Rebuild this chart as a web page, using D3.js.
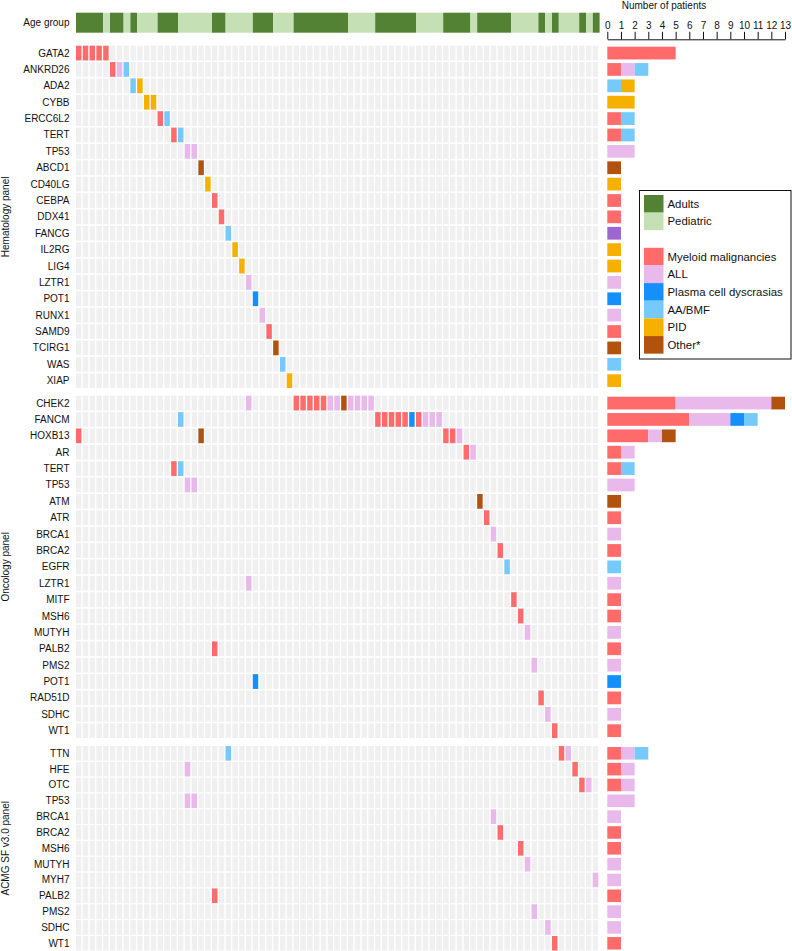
<!DOCTYPE html>
<html><head><meta charset="utf-8">
<script src="https://cdn.jsdelivr.net/npm/d3@7"></script>
<style>body{margin:0;background:#fff}svg{display:block;font-family:"Liberation Sans",Arial,Helvetica,sans-serif}</style>
</head><body><svg id="c" width="792" height="951"></svg>
<script>
// ---------- DATA ----------
const ageCodes = ["A", "P"];
const ageLabels = ["Adults", "Pediatric"];
// age group of each patient (column), left to right
const patientAge = ["A","A","A","A","P","A","A","P","A","P","P","P","A","A","A","P","P","P","P","P",
  "A","A","P","P","P","P","A","A","A","P","P","P","A","A","A","A","A","A","A","A",
  "P","P","P","P","A","A","A","A","A","A","P","P","P","P","A","A","A","A","P","A",
  "A","A","A","A","P","P","P","P","A","P","A","P","P","P","A","P","A"];
const diagnosisCodes = ["M", "ALL", "PC", "AA", "PID", "O"];
const diagnosisLabels = ["Myeloid malignancies", "ALL", "Plasma cell dyscrasias", "AA/BMF", "PID", "Other*"];
// diagnosis of each patient (column)
const patientDiagnosis = ["M","M","M","M","M","M","ALL","AA","AA","PID","PID","PID","M","AA","M","AA","ALL","ALL","O","PID",
  "M","M","AA","PID","PID","ALL","PC","ALL","M","O","AA","PID","M","M","M","M","M","ALL","ALL","O",
  "ALL","ALL","ALL","ALL","M","M","M","M","M","PC","M","ALL","ALL","ALL","M","M","ALL","M","ALL","O",
  "M","ALL","M","AA","M","M","ALL","ALL","M","ALL","M","M","ALL","M","M","ALL","ALL"];
const panelNames = ["Hematology panel", "Oncology panel", "ACMG SF v3.0 panel"];
const hematologyGenes = ["GATA2","ANKRD26","ADA2","CYBB","ERCC6L2","TERT","TP53","ABCD1","CD40LG","CEBPA","DDX41",
  "FANCG","IL2RG","LIG4","LZTR1","POT1","RUNX1","SAMD9","TCIRG1","WAS","XIAP"];
const hematologyPatients = [[0,1,2,3,4],[5,6,7],[8,9],[10,11],[12,13],[14,15],[16,17],[18],[19],[20],[21],
  [22],[23],[24],[25],[26],[27],[28],[29],[30],[31]];
const oncologyGenes = ["CHEK2","FANCM","HOXB13","AR","TERT","TP53","ATM","ATR","BRCA1","BRCA2","EGFR","LZTR1",
  "MITF","MSH6","MUTYH","PALB2","PMS2","POT1","RAD51D","SDHC","WT1"];
const oncologyPatients = [[25,32,33,34,35,36,37,38,39,40,41,42,43],[15,44,45,46,47,48,49,50,51,52,53],
  [0,18,54,55,56],[57,58],[14,15],[16,17],[59],[60],[61],[62],[63],[25],[64],[65],[66],[20],[67],[26],[68],[69],[70]];
const acmgGenes = ["TTN","HFE","OTC","TP53","BRCA1","BRCA2","MSH6","MUTYH","MYH7","PALB2","PMS2","SDHC","WT1"];
const acmgPatients = [[22,71,72],[16,73],[74,75],[16,17],[61],[62],[65],[66],[76],[20],[67],[69],[70]];
const countTicks = [0,1,2,3,4,5,6,7,8,9,10,11,12,13];

// ---------- STYLE ----------
const ageColors = {A: "#548235", P: "#c5e0b4"};
const diagColors = {M: "#ff6b6b", ALL: "#e8b9ea", PC: "#1590fb", AA: "#75cafb", PID: "#f5b000", O: "#b1520f"};
const unclassifiedBarColor = "#9e67cf";
const gray = "#f0f0f0";
const nPatients = patientAge.length;

const svg = d3.select("#c");
const xAge = d3.scaleBand().domain(d3.range(nPatients)).range([76, 76 + nPatients * 6.8]).padding(0);
const xCell = d3.scaleBand().domain(d3.range(nPatients)).range([75.3, 75.3 + nPatients * 6.8])
  .paddingInner(0.2).paddingOuter(0.1);
const xBar = d3.scaleLinear().domain([0, 13]).range([607.3, 785]);

// Age group bar: merge consecutive patients of the same group into runs
const ageRuns = [];
patientAge.forEach((a, i) => {
  const last = ageRuns[ageRuns.length - 1];
  if (last && last.code === a) last.end = i; else ageRuns.push({code: a, start: i, end: i});
});
svg.append("g").selectAll("rect").data(ageRuns).join("rect")
  .attr("x", d => xAge(d.start)).attr("y", 12.7)
  .attr("width", d => xAge(d.end) + xAge.bandwidth() - xAge(d.start)).attr("height", 20)
  .attr("fill", d => ageColors[d.code]);
svg.append("text").attr("x", 69.5).attr("y", 22.7).attr("dy", "0.35em").attr("text-anchor", "end")
  .attr("font-size", 10).attr("fill", "#111").text("Age group");

// Axis
const axis = d3.axisTop(xBar).tickValues(countTicks).tickSize(7.5).tickSizeOuter(0).tickPadding(3);
const ag = svg.append("g").attr("transform", "translate(0,39.3)").call(axis);
ag.selectAll("text").attr("font-size", 10).attr("fill", "#111").attr("font-family", "Liberation Sans, Arial, sans-serif");
ag.selectAll("line,path").attr("stroke", "#111");
svg.append("text").attr("x", 664).attr("y", 8.5).attr("text-anchor", "middle").attr("font-size", 10)
  .attr("fill", "#111").text("Number of patients");

// Panels
const panels = [
  {name: panelNames[0], genes: hematologyGenes, patients: hematologyPatients, top: 44.88, step: 16.38, pad: 0.1},
  {name: panelNames[1], genes: oncologyGenes, patients: oncologyPatients, top: 394.88, step: 16.38, pad: 0.1},
  {name: panelNames[2], genes: acmgGenes, patients: acmgPatients, top: 745.4, step: 15.83, pad: 0.08}
];

panels.forEach((p, pi) => {
  const y = d3.scaleBand().domain(p.genes).range([p.top, p.top + p.genes.length * p.step])
    .paddingInner(p.pad).paddingOuter(p.pad / 2);
  const g = svg.append("g");
  // background cells
  const bg = [];
  p.genes.forEach(gene => d3.range(nPatients).forEach(j => bg.push({gene, j})));
  g.append("g").selectAll("rect").data(bg).join("rect")
    .attr("x", d => xCell(d.j)).attr("y", d => y(d.gene))
    .attr("width", xCell.bandwidth()).attr("height", y.bandwidth()).attr("fill", gray);
  // variant cells
  const hits = [];
  p.genes.forEach((gene, gi) => p.patients[gi].forEach(j => hits.push({gene, j, dx: patientDiagnosis[j]})));
  g.append("g").selectAll("rect").data(hits).join("rect")
    .attr("x", d => xCell(d.j)).attr("y", d => y(d.gene))
    .attr("width", xCell.bandwidth()).attr("height", y.bandwidth()).attr("fill", d => diagColors[d.dx]);
  // gene labels
  g.append("g").selectAll("text").data(p.genes).join("text")
    .attr("x", 69.5).attr("y", d => y(d) + y.bandwidth() / 2).attr("dy", "0.35em")
    .attr("text-anchor", "end").attr("font-size", 10).attr("fill", "#111").text(d => d);
  // panel label
  const cy = (y.range()[0] + y.range()[1]) / 2;
  svg.append("text").attr("transform", `translate(8.5,${cy}) rotate(-90)`).attr("text-anchor", "middle")
    .attr("font-size", 10).attr("fill", "#111").text(p.name);
  // stacked bars
  const segs = [];
  p.genes.forEach((gene, gi) => {
    let acc = 0;
    diagnosisCodes.forEach(code => {
      const n = p.patients[gi].filter(j => patientDiagnosis[j] === code).length;
      if (n > 0) {
        let color = diagColors[code];
        if (pi === 0 && gene === "FANCG") color = unclassifiedBarColor;
        segs.push({gene, x0: acc, x1: acc + n, color});
        acc += n;
      }
    });
  });
  g.append("g").selectAll("rect").data(segs).join("rect")
    .attr("x", d => xBar(d.x0)).attr("y", d => y(d.gene) + 1)
    .attr("width", d => xBar(d.x1) - xBar(d.x0)).attr("height", y.bandwidth() - 2)
    .attr("fill", d => d.color);
});

// Legend
const lg = svg.append("g");
lg.append("rect").attr("x", 639.5).attr("y", 190.5).attr("width", 151.5).attr("height", 168.5)
  .attr("fill", "#fff").attr("stroke", "#111").attr("stroke-width", 1);
const legendItems = [
  {label: ageLabels[0], color: ageColors[ageCodes[0]], y: 195},
  {label: ageLabels[1], color: ageColors[ageCodes[1]], y: 212.6},
];
diagnosisCodes.forEach((c, i) => legendItems.push({label: diagnosisLabels[i], color: diagColors[c], y: 247.8 + i * 17.65}));
lg.selectAll("rect.sw").data(legendItems).join("rect").attr("class", "sw")
  .attr("x", 644).attr("y", d => d.y).attr("width", 19.5).attr("height", 17.6).attr("fill", d => d.color);
lg.selectAll("text").data(legendItems).join("text")
  .attr("x", 667.5).attr("y", d => d.y + 8.8).attr("dy", "0.35em").attr("font-size", 11.4).attr("fill", "#111")
  .text(d => d.label);
</script></body></html>
